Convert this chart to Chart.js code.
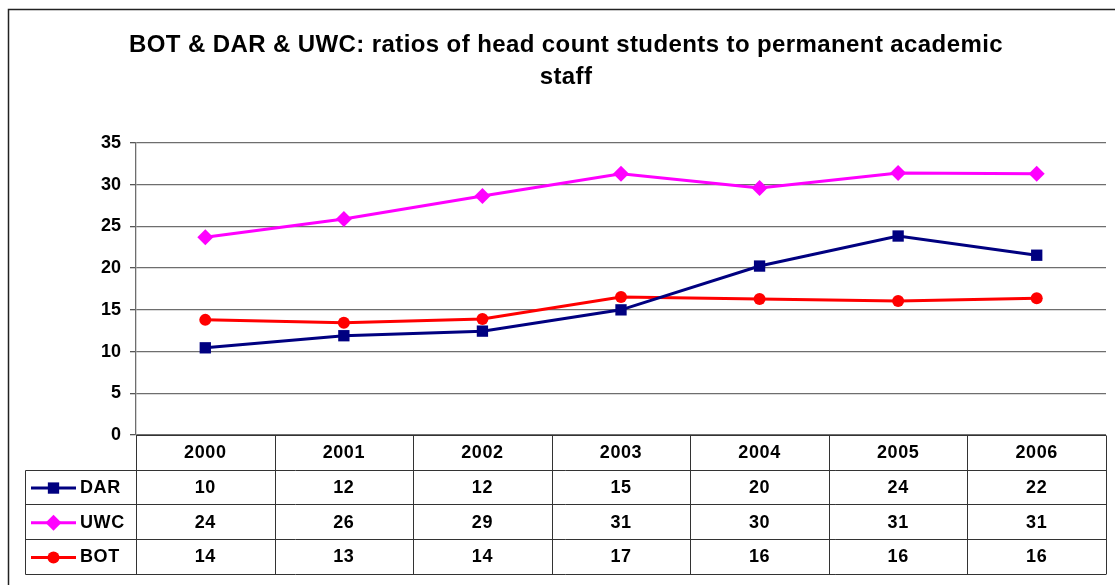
<!DOCTYPE html>
<html lang="en">

<head>
  <meta charset="utf-8" />
  <title>BOT & DAR & UWC ratios</title>
  <script src="https://cdn.jsdelivr.net/npm/chart.js"></script>
  <style>
    html, body { margin: 0; padding: 0; background: #fff; }
    #wrap { position: relative; width: 1115px; height: 585px; }
  </style>
</head>

<body>
  <div id="wrap"><canvas id="ratioChart"></canvas></div>

  <script>
    // chart data
    const years = ['2000', '2001', '2002', '2003', '2004', '2005', '2006'];
    const darValues = [10.45, 11.9, 12.45, 15.0, 20.25, 23.85, 21.55];
    const uwcValues = [23.7, 25.9, 28.65, 31.3, 29.6, 31.4, 31.3];
    const botValues = [13.8, 13.45, 13.9, 16.55, 16.3, 16.05, 16.4];
    const yTicks = [0, 5, 10, 15, 20, 25, 30, 35];

    const titleLines = ['BOT & DAR & UWC: ratios of head count students to permanent academic', 'staff'];
    const FONT = "'Liberation Sans', Arial, sans-serif";

    const series = [
      { label: 'DAR', data: darValues, color: '#000080', style: 'rect', radius: 8 },
      { label: 'UWC', data: uwcValues, color: '#ff00ff', style: 'rectRot', radius: 8 },
      { label: 'BOT', data: botValues, color: '#ff0000', style: 'circle', radius: 6 }
    ];

    // frame, title and data table drawn around the plot
    const tablePlugin = {
      id: 'tablePlugin',
      beforeDraw(chart) {
        const ctx = chart.ctx;
        ctx.save();
        ctx.strokeStyle = '#222';
        ctx.lineWidth = 1.5;
        ctx.beginPath();
        ctx.moveTo(8.5, 600);
        ctx.lineTo(8.5, 9.5);
        ctx.lineTo(1120, 9.5);
        ctx.stroke();

        ctx.fillStyle = '#000';
        ctx.font = 'bold 24px ' + FONT;
        ctx.letterSpacing = '0.4px';
        ctx.textAlign = 'center';
        ctx.textBaseline = 'middle';
        ctx.fillText(titleLines[0], 566, 45);
        ctx.fillText(titleLines[1], 566, 77);
        ctx.restore();
      },
      afterDraw(chart) {
        const ctx = chart.ctx;
        const x = chart.scales.x;
        const area = chart.chartArea;
        const colW = (area.right - area.left) / years.length;
        const legendLeft = 25.5;
        const rowH = 34.7;
        const top = area.bottom;
        const rows = [top, top + rowH];
        series.forEach((s, i) => rows.push(top + rowH * (i + 2)));
        const bottom = rows[rows.length - 1];

        ctx.save();
        ctx.strokeStyle = '#333';
        ctx.lineWidth = 1;
        ctx.beginPath();
        // horizontal lines
        ctx.moveTo(area.left, Math.round(top) + 0.5);
        ctx.lineTo(area.right, Math.round(top) + 0.5);
        for (let r = 1; r < rows.length; r++) {
          const y = Math.round(rows[r]) + 0.5;
          ctx.moveTo(legendLeft, y);
          ctx.lineTo(area.right, y);
        }
        // vertical lines
        ctx.moveTo(legendLeft, Math.round(rows[1]) + 0.5);
        ctx.lineTo(legendLeft, Math.round(bottom) + 0.5);
        for (let c = 0; c <= years.length; c++) {
          const vx = Math.round(area.left + c * colW) + 0.5;
          ctx.moveTo(vx, Math.round(top) + 0.5);
          ctx.lineTo(vx, Math.round(bottom) + 0.5);
        }
        ctx.stroke();

        ctx.fillStyle = '#000';
        ctx.font = 'bold 18px ' + FONT;
        ctx.letterSpacing = '0.6px';
        ctx.textAlign = 'center';
        ctx.textBaseline = 'middle';
        years.forEach((yr, i) => {
          ctx.fillText(yr, x.getPixelForValue(i), top + rowH / 2 + 1);
        });

        series.forEach((s, r) => {
          const cy = rows[r + 1] + rowH / 2 + 1;
          s.data.forEach((v, i) => {
            ctx.fillText(String(Math.round(v)), x.getPixelForValue(i), cy);
          });
          // legend key
          ctx.strokeStyle = s.color;
          ctx.lineWidth = 3;
          ctx.beginPath();
          ctx.moveTo(31, cy);
          ctx.lineTo(76, cy);
          ctx.stroke();
          ctx.fillStyle = s.color;
          Chart.helpers.drawPoint(ctx, {
            pointStyle: s.style,
            radius: s.radius,
            rotation: 0,
            borderWidth: 0
          }, 53.5, cy);
          ctx.fillStyle = '#000';
          ctx.textAlign = 'left';
          ctx.fillText(s.label, 80, cy);
          ctx.textAlign = 'center';
        });
        ctx.restore();
      }
    };

    const ctx = document.getElementById('ratioChart').getContext('2d');
    const ratioChart = new Chart(ctx, {
      type: 'line',
      data: {
        labels: years,
        datasets: series.map(s => ({
          label: s.label,
          data: s.data,
          borderColor: s.color,
          backgroundColor: s.color,
          borderWidth: 3,
          pointStyle: s.style,
          pointRadius: s.radius,
          pointBorderWidth: 0,
          pointBackgroundColor: s.color,
          tension: 0,
          fill: false
        }))
      },
      options: {
        responsive: true,
        maintainAspectRatio: false,
        animation: false,
        events: [],
        layout: {
          padding: { left: 0, right: 9, top: 143, bottom: 150 }
        },
        plugins: {
          legend: { display: false },
          title: { display: false },
          tooltip: { enabled: false }
        },
        scales: {
          x: {
            type: 'category',
            offset: true,
            display: false
          },
          y: {
            min: 0,
            max: 35,
            afterFit(scale) { scale.width = 136; },
            afterBuildTicks(scale) { scale.ticks = yTicks.map(v => ({ value: v })); },
            ticks: {
              color: '#000',
              padding: 9,
              font: { family: FONT, size: 18, weight: 'bold' }
            },
            grid: {
              color: '#6e6e6e',
              lineWidth: 1.3,
              tickLength: 6,
              tickColor: '#555'
            },
            border: { color: '#6e6e6e', width: 1.3 }
          }
        }
      },
      plugins: [tablePlugin]
    });
  </script>
</body>

</html>
